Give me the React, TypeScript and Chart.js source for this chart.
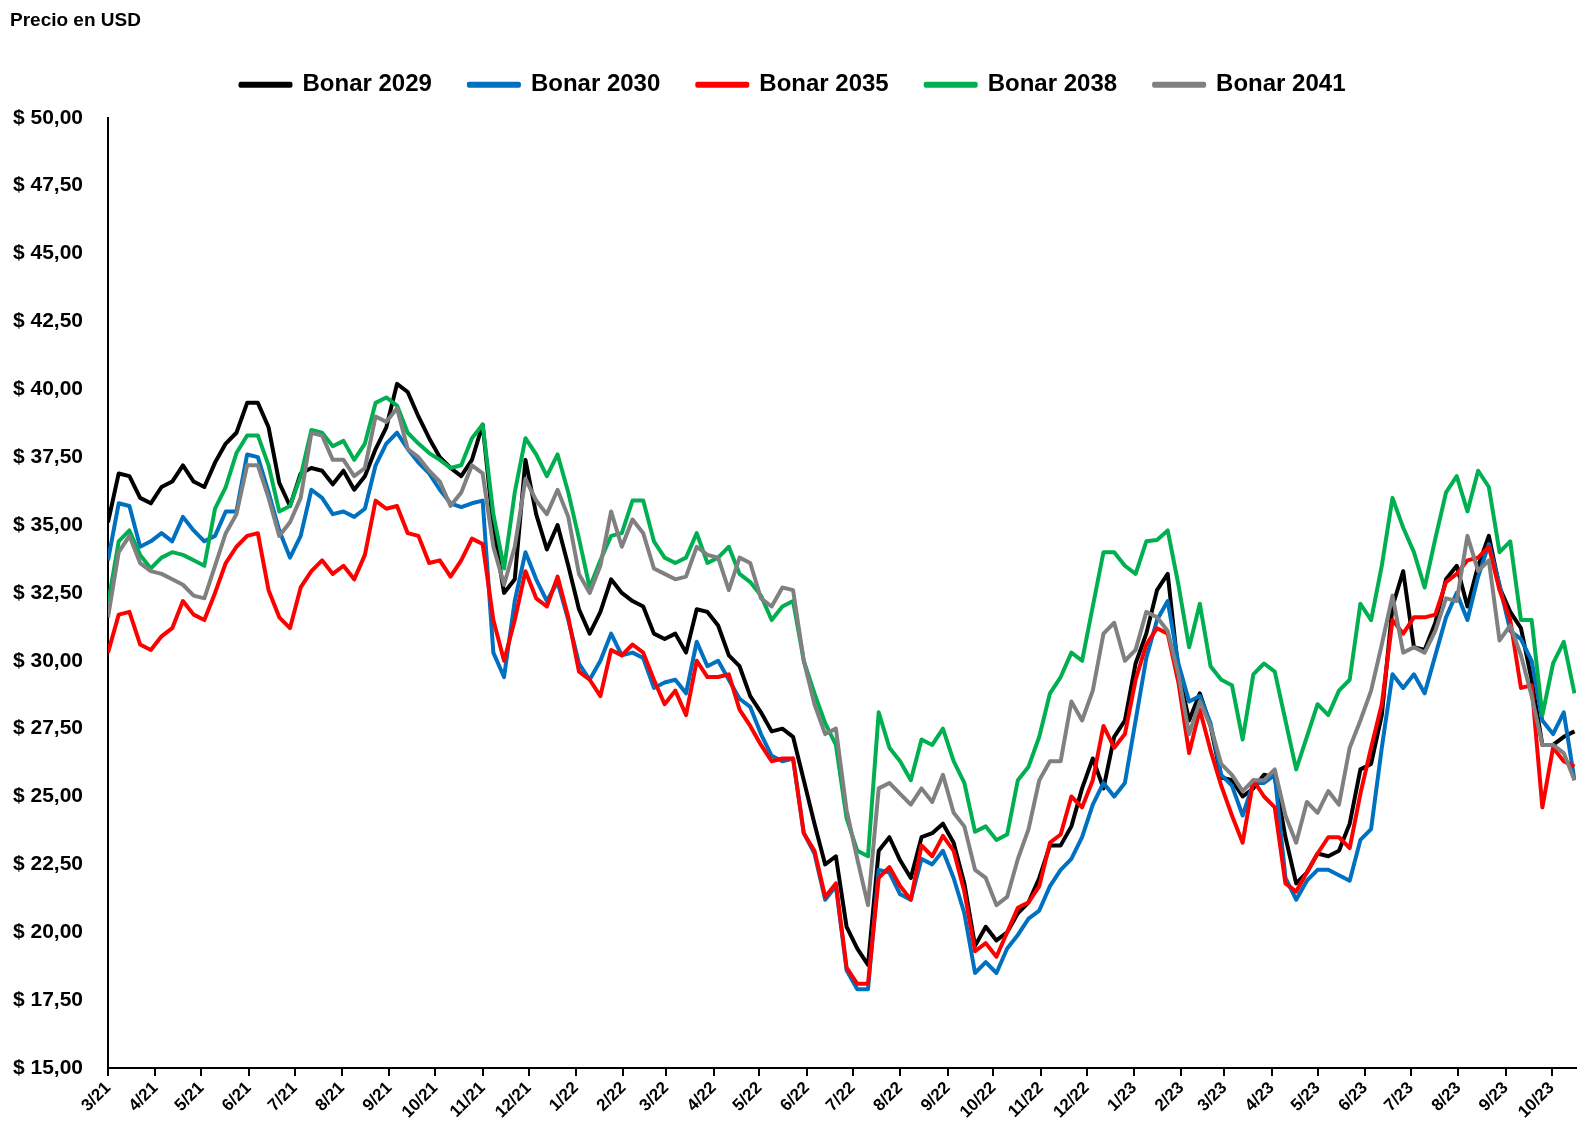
import React, { useEffect, useRef } from "react";
import { Chart, registerables } from "chart.js";

Chart.register(...registerables);

// Weekly observations starting on 2021-03-01 (one value every 7 days)
const START_DATE = { year: 2021, month: 3, day: 1 };
const STEP_DAYS = 7;

const MONTH_LABELS = [
  "3/21", "4/21", "5/21", "6/21", "7/21", "8/21", "9/21", "10/21", "11/21", "12/21",
  "1/22", "2/22", "3/22", "4/22", "5/22", "6/22", "7/22", "8/22", "9/22", "10/22",
  "11/22", "12/22", "1/23", "2/23", "3/23", "4/23", "5/23", "6/23", "7/23", "8/23",
  "9/23", "10/23",
];

const SERIES_NAMES = ["Bonar 2029", "Bonar 2030", "Bonar 2035", "Bonar 2038", "Bonar 2041"];

const BONAR_2029 = [
  35.1, 36.9, 36.8, 36.0, 35.8, 36.4, 36.6, 37.2, 36.6, 36.4,
  37.3, 38.0, 38.4, 39.5, 39.5, 38.6, 36.55, 35.7, 36.9, 37.1,
  37.0, 36.5, 37.0, 36.3, 36.8, 37.8, 38.6, 40.2, 39.9, 39.0,
  38.2, 37.5, 37.1, 36.8, 37.4, 38.7, 34.9, 32.5, 33.0, 37.4,
  35.4, 34.1, 35.0, 33.5, 31.9, 31.0, 31.8, 33.0, 32.5, 32.2,
  32.0, 31.0, 30.8, 31.0, 30.3, 31.9, 31.8, 31.3, 30.2, 29.8,
  28.7, 28.1, 27.4, 27.5, 27.2, 25.6, 24.0, 22.5, 22.8, 20.2,
  19.4, 18.8, 23.0, 23.5, 22.65, 22.0, 23.5, 23.65, 24.0, 23.3,
  21.8, 19.5, 20.2, 19.7, 20.0, 20.7, 21.1, 22.0, 23.2, 23.2,
  23.9, 25.3, 26.4, 25.3, 27.2, 27.8, 29.9, 31.0, 32.6, 33.2,
  29.6, 27.8, 28.8, 27.6, 25.7, 25.6, 25.0, 25.3, 25.8, 25.7,
  23.5, 21.8, 22.2, 22.9, 22.8, 23.0, 24.0, 26.0, 26.2, 28.0,
  32.0, 33.3, 30.5, 30.4, 31.4, 33.0, 33.5, 32.0, 33.5, 34.6,
  32.7, 31.8, 31.2, 29.3, 26.9, 26.9, 27.2, 27.4,
];

const BONAR_2030 = [
  33.7, 35.8, 35.7, 34.2, 34.4, 34.7, 34.4, 35.3, 34.8, 34.4,
  34.6, 35.5, 35.5, 37.6, 37.5, 36.2, 34.8, 33.8, 34.6, 36.3,
  36.0, 35.4, 35.5, 35.3, 35.6, 37.2, 38.0, 38.4, 37.8, 37.3,
  36.9, 36.3, 35.8, 35.66, 35.8, 35.9, 30.3, 29.4, 32.2, 34.0,
  33.0, 32.2, 32.9, 31.5, 29.9, 29.3, 30.0, 31.0, 30.2, 30.3,
  30.1, 29.0, 29.2, 29.3, 28.8, 30.7, 29.8, 30.0, 29.3, 28.6,
  28.3, 27.3, 26.5, 26.3, 26.4, 23.65, 22.9, 21.2, 21.7, 18.6,
  17.9, 17.9, 22.3, 22.2, 21.4, 21.2, 22.7, 22.5, 23.0, 22.0,
  20.7, 18.5, 18.9, 18.5, 19.4, 19.9, 20.5, 20.8, 21.7, 22.3,
  22.7, 23.5, 24.7, 25.5, 25.0, 25.5, 27.8, 30.1, 31.5, 32.2,
  29.9, 28.5, 28.7, 27.7, 25.8, 25.4, 24.3, 25.5, 25.5, 25.8,
  22.0, 21.2, 21.9, 22.3, 22.3, 22.1, 21.9, 23.4, 23.8, 26.8,
  29.5, 29.0, 29.5, 28.8, 30.2, 31.6, 32.5, 31.5, 33.1, 34.3,
  32.8, 31.1, 30.8, 30.0, 27.8, 27.3, 28.1, 25.6,
];

const BONAR_2035 = [
  30.3, 31.7, 31.8, 30.6, 30.4, 30.9, 31.2, 32.2, 31.7, 31.5,
  32.5, 33.6, 34.2, 34.6, 34.7, 32.6, 31.6, 31.2, 32.7, 33.3,
  33.7, 33.2, 33.5, 33.0, 33.9, 35.9, 35.6, 35.7, 34.7, 34.6,
  33.6, 33.7, 33.1, 33.7, 34.5, 34.3, 31.5, 30.0, 31.5, 33.3,
  32.3, 32.0, 33.1, 31.6, 29.6, 29.3, 28.7, 30.4, 30.2, 30.6,
  30.3, 29.3, 28.4, 28.9, 28.0, 30.0, 29.4, 29.4, 29.5, 28.2,
  27.6, 26.9, 26.3, 26.4, 26.4, 23.65, 23.0, 21.3, 21.8, 18.7,
  18.1, 18.1, 22.0, 22.4, 21.7, 21.2, 23.2, 22.8, 23.55, 23.0,
  21.5, 19.3, 19.6, 19.1, 20.0, 20.9, 21.1, 21.7, 23.3, 23.6,
  25.0, 24.6, 25.6, 27.6, 26.8, 27.3, 29.3, 30.6, 31.2, 31.0,
  29.2, 26.6, 28.2, 26.7, 25.4, 24.3, 23.3, 25.6, 25.0, 24.6,
  21.8, 21.5, 22.2, 22.9, 23.5, 23.5, 23.1, 25.1, 26.8, 28.4,
  31.5, 31.0, 31.6, 31.6, 31.7, 32.9, 33.2, 33.7, 33.8, 34.2,
  32.6, 31.5, 29.0, 29.1, 24.6, 26.8, 26.3, 26.1,
];

const BONAR_2038 = [
  32.1, 34.4, 34.8, 33.9, 33.4, 33.8, 34.0, 33.9, 33.7, 33.5,
  35.6, 36.4, 37.65, 38.3, 38.3, 37.2, 35.5, 35.7, 36.8, 38.5,
  38.4, 37.9, 38.1, 37.4, 38.0, 39.5, 39.7, 39.4, 38.4, 38.0,
  37.65, 37.4, 37.1, 37.2, 38.2, 38.7, 35.4, 33.4, 36.2, 38.2,
  37.6, 36.8, 37.6, 36.2, 34.5, 32.7, 33.7, 34.6, 34.7, 35.9,
  35.9, 34.4, 33.8, 33.6, 33.8, 34.7, 33.6, 33.8, 34.2, 33.2,
  32.9, 32.4, 31.5, 32.0, 32.2, 30.0, 28.8, 27.7, 26.9, 24.2,
  23.0, 22.8, 28.1, 26.8, 26.3, 25.6, 27.1, 26.9, 27.5, 26.3,
  25.5, 23.7, 23.9, 23.4, 23.6, 25.6, 26.1, 27.2, 28.8, 29.4,
  30.3, 30.0, 32.0, 34.0, 34.0, 33.5, 33.2, 34.4, 34.45, 34.8,
  32.8, 30.5, 32.1, 29.8, 29.3, 29.1, 27.1, 29.5, 29.9, 29.6,
  27.8, 26.0, 27.2, 28.4, 28.0, 28.9, 29.3, 32.1, 31.5, 33.5,
  36.0, 34.9, 34.0, 32.7, 34.5, 36.2, 36.8, 35.5, 37.0, 36.4,
  34.0, 34.4, 31.5, 31.5, 28.0, 29.9, 30.7, 28.8,
];

const BONAR_2041 = [
  31.6, 34.0, 34.6, 33.6, 33.3, 33.2, 33.0, 32.8, 32.4, 32.3,
  33.5, 34.7, 35.4, 37.2, 37.2, 36.0, 34.6, 35.1, 36.0, 38.4,
  38.3, 37.4, 37.4, 36.8, 37.1, 39.0, 38.8, 39.3, 37.8, 37.5,
  37.0, 36.6, 35.7, 36.2, 37.2, 36.9, 34.2, 32.8, 34.2, 36.7,
  35.9, 35.4, 36.3, 35.3, 33.2, 32.5, 33.5, 35.5, 34.2, 35.2,
  34.7, 33.4, 33.2, 33.0, 33.1, 34.2, 33.9, 33.8, 32.6, 33.8,
  33.6, 32.3, 32.0, 32.7, 32.6, 30.0, 28.4, 27.3, 27.5, 24.5,
  22.7, 21.0, 25.3, 25.5, 25.1, 24.7, 25.3, 24.8, 25.8, 24.4,
  23.9, 22.3, 22.0, 21.0, 21.3, 22.7, 23.8, 25.6, 26.3, 26.3,
  28.5, 27.8, 28.9, 31.0, 31.4, 30.0, 30.4, 31.8, 31.6, 31.1,
  29.5, 27.3, 28.5, 27.6, 26.2, 25.8, 25.2, 25.6, 25.6, 26.0,
  24.3, 23.3, 24.8, 24.4, 25.2, 24.7, 26.8, 27.8, 28.9, 30.6,
  32.4, 30.3, 30.5, 30.3, 31.1, 32.3, 32.2, 34.6, 33.3, 33.7,
  30.75, 31.3, 30.2, 28.7, 26.9, 26.9, 26.6, 25.6,
];

const SERIES_VALUES = [BONAR_2029, BONAR_2030, BONAR_2035, BONAR_2038, BONAR_2041];
const SERIES_COLORS = ["#000000", "#0070C0", "#FF0000", "#00B050", "#808080"];

const FONT = "'Liberation Sans', Arial, sans-serif";
const DAY_MS = 86400000;

function dayOffsetOfLabel(label: string): number {
  const [m, yy] = label.split("/").map((s) => parseInt(s, 10));
  const t = Date.UTC(2000 + yy, m - 1, 1);
  const t0 = Date.UTC(START_DATE.year, START_DATE.month - 1, START_DATE.day);
  return Math.round((t - t0) / DAY_MS);
}

const MONTH_TICK_DAYS = MONTH_LABELS.map(dayOffsetOfLabel);
const X_MAX_DAYS = 960;

export default function App() {
  const canvasRef = useRef<HTMLCanvasElement | null>(null);

  useEffect(() => {
    if (!canvasRef.current) return;

    const datasets = SERIES_NAMES.map((name, i) => ({
      label: name,
      data: SERIES_VALUES[i].map((v, k) => ({ x: k * STEP_DAYS, y: v })),
      borderColor: SERIES_COLORS[i],
      backgroundColor: SERIES_COLORS[i],
      borderWidth: 4,
      pointRadius: 0,
      pointHoverRadius: 0,
      tension: 0,
      fill: false,
      borderJoinStyle: "round" as const,
      order: SERIES_NAMES.length - i,
    }));

    const legendHeightPlugin = {
      id: "legendHeight",
      beforeInit(chart: any) {
        const legend = chart.legend;
        if (!legend) return;
        const originalFit = legend.fit;
        legend.fit = function fit() {
          originalFit.bind(legend)();
          this.height = 82;
        };
      },
    };

    const chart = new Chart(canvasRef.current, {
      type: "line",
      data: { datasets },
      plugins: [legendHeightPlugin],
      options: {
        animation: false,
        responsive: false,
        devicePixelRatio: 1,
        layout: { padding: { top: 9, left: 10, right: 6, bottom: 0 } },
        plugins: {
          title: {
            display: true,
            text: "Precio en USD",
            align: "start",
            color: "#000",
            font: { family: FONT, size: 19, weight: "bold" },
            padding: { top: 0, bottom: 4 },
          },
          legend: {
            display: true,
            position: "top",
            labels: {
              color: "#000",
              font: { family: FONT, size: 24, weight: "bold" },
              boxWidth: 50,
              boxHeight: 2,
              padding: 37,
              sort: (a: any, b: any) => a.datasetIndex - b.datasetIndex,
            },
          },
          tooltip: { enabled: false },
        },
        scales: {
          x: {
            type: "linear",
            min: 0,
            max: X_MAX_DAYS,
            afterBuildTicks: (scale: any) => {
              scale.ticks = MONTH_TICK_DAYS.map((v) => ({ value: v }));
            },
            afterFit: (scale: any) => {
              scale.height = 71;
            },
            ticks: {
              autoSkip: false,
              minRotation: 45,
              maxRotation: 45,
              color: "#000",
              padding: 2,
              font: { family: FONT, size: 17, weight: "bold" },
              callback: (value: any) => {
                const idx = MONTH_TICK_DAYS.findIndex((d) => Math.abs(d - Number(value)) < 0.5);
                return idx >= 0 ? MONTH_LABELS[idx] : "";
              },
            },
            grid: {
              display: true,
              drawOnChartArea: false,
              drawTicks: true,
              tickLength: 8,
              color: "#000",
              lineWidth: 2,
            },
            border: { display: true, color: "#000", width: 2 },
          },
          y: {
            min: 15,
            max: 50,
            afterFit: (scale: any) => {
              scale.width = 98;
            },
            ticks: {
              stepSize: 2.5,
              color: "#000",
              padding: 25,
              font: { family: FONT, size: 21, weight: "bold" },
              callback: (value: any) => "$ " + Number(value).toFixed(2).replace(".", ","),
            },
            grid: { display: true, drawOnChartArea: false, drawTicks: false },
            border: { display: true, color: "#000", width: 2 },
          },
        },
      },
    });

    return () => chart.destroy();
  }, []);

  return (
    <div style={{ position: "absolute", left: 0, top: 0, width: 1582, height: 1139, background: "#fff" }}>
      <canvas ref={canvasRef} width={1582} height={1139} style={{ display: "block" }} />
    </div>
  );
}
